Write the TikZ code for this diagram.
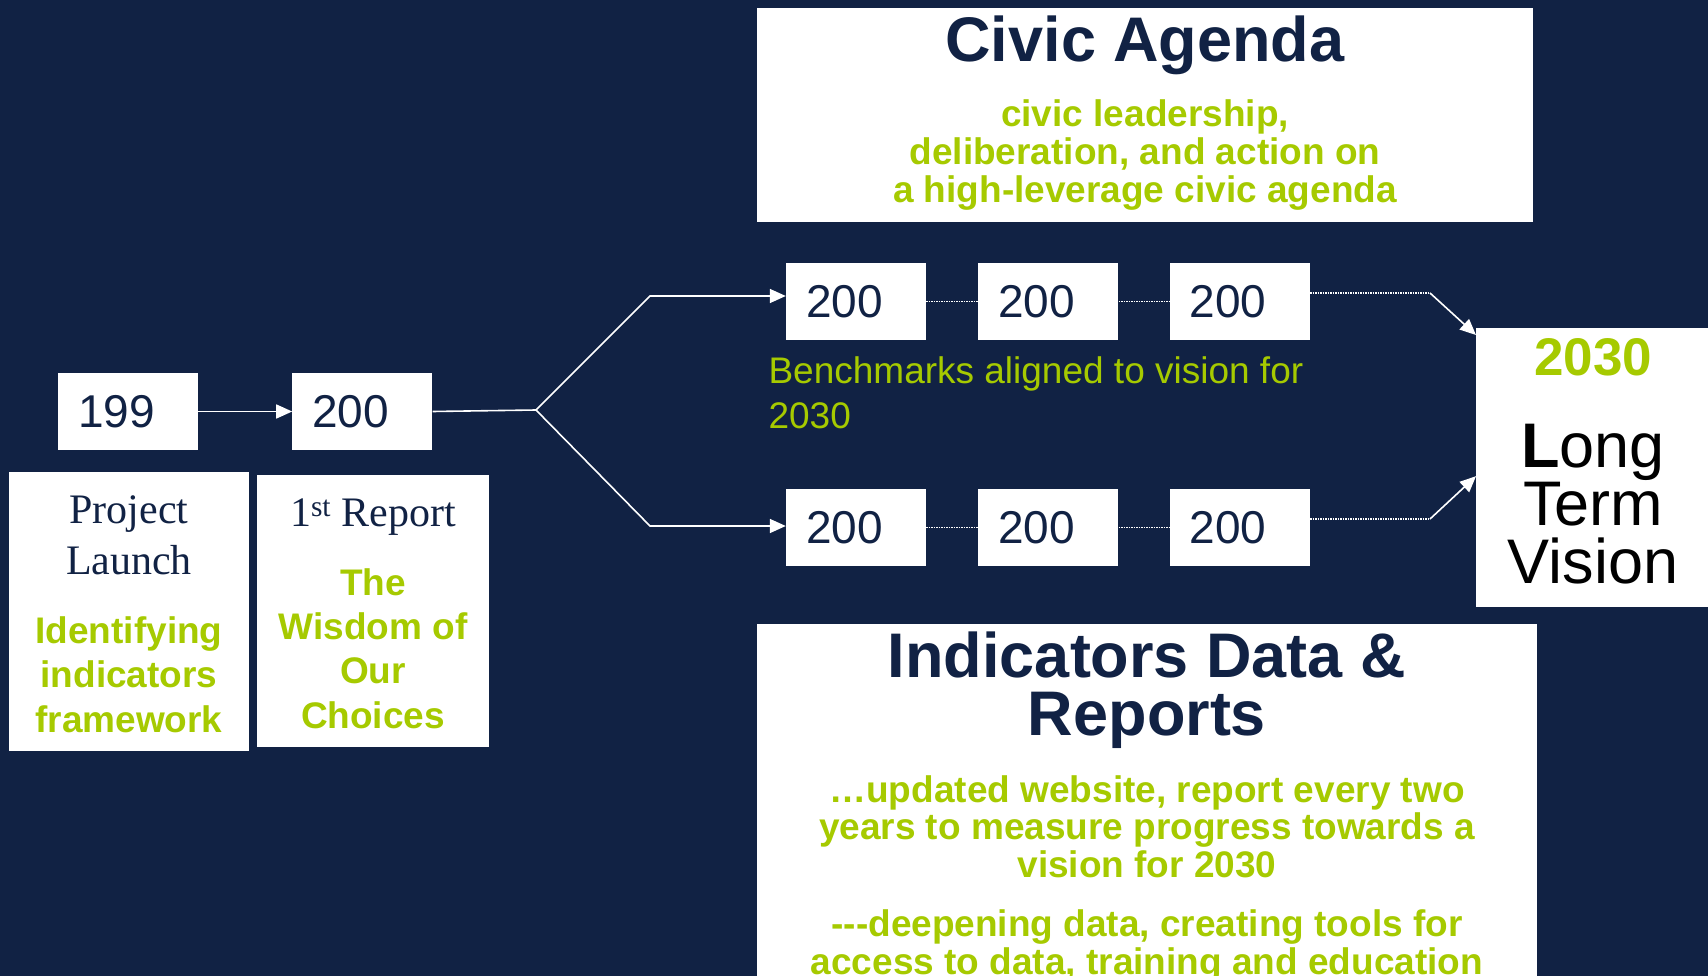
\documentclass[tikz,border=0pt]{standalone}
\usepackage{fontspec}
\setmainfont{Liberation Sans}
\newfontfamily\serifface{Liberation Serif}
\usetikzlibrary{positioning,arrows.meta}
\definecolor{navy}{HTML}{112244}
\definecolor{lime}{HTML}{A6CA00}

\begin{document}
\begin{tikzpicture}[x=1pt,y=-1pt,
		whitebox/.style={fill=white,inner sep=0pt},
		yearbox/.style={whitebox,minimum height=77pt,inner xsep=20pt,text width=100pt,
			align=left,text=navy,font=\fontsize{46}{46}\selectfont},
		flow/.style={white,line width=1.6pt,-{Triangle[length=16pt,width=14pt]}},
		link/.style={white,line width=1.6pt},
		dotlink/.style={white,line width=1.5pt,dash pattern=on 1.5pt off 1pt},
		headtext/.style={text=navy,font=\bfseries\fontsize{63}{58}\selectfont,align=center,anchor=base},
		notetext/.style={text=lime,font=\bfseries\fontsize{37}{38}\selectfont,align=center,anchor=base},
		serieftext/.style={text=navy,font=\serifface\fontsize{42}{51}\selectfont,align=center,anchor=base}]
		
		\useasboundingbox (0,0) rectangle (1708,976);
		\clip (0,0) rectangle (1708,976);
		\fill[navy] (0,0) rectangle (1708,976);
		
		% early years (multi-line texts sit on their last baseline)
		\node[yearbox] (yr199) at (128,411.5) {199};
		\node[yearbox,right=94pt of yr199] (yr200) {200};
		
		\node[whitebox,anchor=north west,minimum width=240pt,minimum height=279pt] (launch) at (9,472) {};
		\node[serieftext] (launchtitle) at (129,574) {Project\\Launch};
		\node[notetext,font=\bfseries\fontsize{37}{44.5}\selectfont] (launchnote) at (129,732)
			{Identifying\\indicators\\framework};
		
		\node[whitebox,anchor=north west,minimum width=232pt,minimum height=272pt] (report) at (257,475) {};
		\node[serieftext] (reporttitle) at (373,526) {1\textsuperscript{st} Report};
		\node[notetext,font=\bfseries\fontsize{37}{44.3}\selectfont] (reportnote) at (373,728)
			{The\\Wisdom of\\Our\\Choices};
		
		% benchmark years
		\node[yearbox] (top1) at (856,301.5) {200};
		\node[yearbox,right=52pt of top1] (top2) {200};
		\node[yearbox,right=51pt of top2] (top3) {200};
		\node[yearbox] (bot1) at (856,527.5) {200};
		\node[yearbox,right=52pt of bot1] (bot2) {200};
		\node[yearbox,right=51pt of bot2] (bot3) {200};
		
		\node[text=lime,font=\fontsize{37}{45}\selectfont,align=left,anchor=base west] (bench) at (765,428)
			{Benchmarks aligned to vision for\\2030};
		
		% civic agenda
		\node[whitebox,minimum width=776pt,minimum height=214pt] (civic) at (1145,115) {};
		\node[headtext] (civictitle) at (1145,62) {Civic Agenda};
		\node[notetext] (civicnote) at (1145,203)
			{civic leadership,\\deliberation, and action on\\a high-leverage civic agenda};
		
		% indicators
		\node[whitebox,anchor=north west,minimum width=780pt,minimum height=400pt] (indic) at (757,624) {};
		\node[headtext] (indictitle) at (1147,735) {Indicators Data \&\\Reports};
		\node[notetext,font=\bfseries\fontsize{37}{37.5}\selectfont] (indicnote) at (1147,974)
			{\dots updated website, report every two\\years to measure progress towards a\\vision for 2030\\[22pt]
			-\kern0pt-\kern0pt-deepening data, creating tools for\\access to data, training and education};
		
		% vision
		\node[whitebox,anchor=north west,minimum width=240pt,minimum height=279pt] (vision) at (1476,328) {};
		\node[text=lime,font=\bfseries\fontsize{53}{53}\selectfont,anchor=base] (visionyear) at (1593,375) {2030};
		\node[text=black,font=\fontsize{63}{58}\selectfont,align=center,anchor=base] (visiontext) at (1593,583)
			{\textbf{L}ong\\Term\\Vision};
		
		% connectors
		\coordinate (fork) at (536,410);
		\coordinate (upbend) at (650,296);
		\coordinate (lowbend) at (650,526);
		\coordinate (upjoin) at (1430,293);
		\coordinate (lowjoin) at (1430,519);
		
		\draw[flow] (yr199.east) -- (yr199.east -| yr200.west);
		\draw[link] (yr200.east) -- (fork);
		\draw[flow] (fork) -- (upbend) -- (upbend -| top1.west);
		\draw[flow] (fork) -- (lowbend) -- (lowbend -| bot1.west);
		
		\draw[dotlink] (top1) -- (top2);
		\draw[dotlink] (top2) -- (top3);
		\draw[dotlink] (bot1) -- (bot2);
		\draw[dotlink] (bot2) -- (bot3);
		
		\draw[dotlink] (upjoin -| top3.east) -- (upjoin);
		\draw[flow] (upjoin) -- ([yshift=-7pt]vision.north west);
		\draw[dotlink] (lowjoin -| bot3.east) -- (lowjoin);
		\draw[flow] (lowjoin) -- ([yshift=-8.5pt]vision.west);
\end{tikzpicture}
\end{document}
